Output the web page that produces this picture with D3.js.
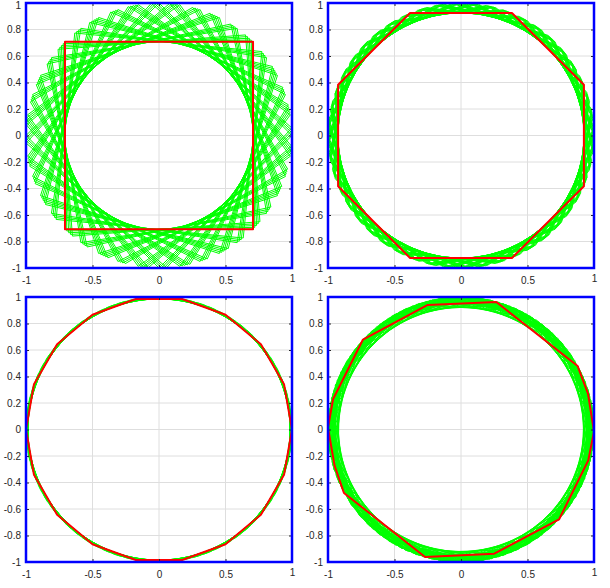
<!DOCTYPE html>
<html>
<head>
<meta charset="utf-8">
<script src="https://cdn.jsdelivr.net/npm/d3@7/dist/d3.min.js"></script>
<style>
  html, body { margin: 0; padding: 0; background: #fff; }
  svg { display: block; }
  .tick text { font-family: "Liberation Sans", Arial, sans-serif; font-size: 10px; fill: #262626; }
</style>
</head>
<body>
<svg id="chart" width="610" height="588"></svg>
<script>
// ---------- data ----------
const xTicks = [-1, -0.5, 0, 0.5, 1];
const xTickLabels = ["-1", "-0.5", "0", "0.5", "1"];
const yTicks = [-1, -0.8, -0.6, -0.4, -0.2, 0, 0.2, 0.4, 0.6, 0.8, 1];
const yTickLabels = ["-1", "-0.8", "-0.6", "-0.4", "-0.2", "0", "0.2", "0.4", "0.6", "0.8", "1"];

// red polygons (vertices, x/y)
const redSquare = [[0.707, 0.707], [-0.707, 0.707], [-0.707, -0.707], [0.707, -0.707]];
const redOctagon = [[0.924, 0.383], [0.383, 0.924], [-0.383, 0.924], [-0.924, 0.383],
                    [-0.924, -0.383], [-0.383, -0.924], [0.383, -0.924], [0.924, -0.383]];
const red18gon = [[1, 0], [0.940, 0.342], [0.766, 0.643], [0.5, 0.866], [0.174, 0.985],
                  [-0.174, 0.985], [-0.5, 0.866], [-0.766, 0.643], [-0.940, 0.342], [-1, 0],
                  [-0.940, -0.342], [-0.766, -0.643], [-0.5, -0.866], [-0.174, -0.985],
                  [0.174, -0.985], [0.5, -0.866], [0.766, -0.643], [0.940, -0.342]];
const redIrregular = [[1.0, -0.015], [0.955, 0.27], [0.877, 0.479], [0.265, 0.962], [-0.25, 0.94],
                      [-0.737, 0.679], [-0.962, 0.228], [-1.0, 0.012], [-0.95, -0.275], [-0.88, -0.479],
                      [-0.27, -0.962], [0.25, -0.937], [0.737, -0.679], [0.957, -0.233]];

// green copies: rotation angles (degrees) applied to each red polygon
const greenSquareRot = [0, 1.1, 2.2, 3.3, 4.4, 9, 10.1, 11.2, 12.3, 18, 19.1, 20.2, 21.3, 22.4,
                        27, 28.1, 29.2, 30.3, 36, 37.1, 38.2, 39.3, 40.4, 45, 46.1, 47.2, 48.3,
                        54, 55.1, 56.2, 57.3, 58.4, 63, 64.1, 65.2, 66.3, 72, 73.1, 74.2, 75.3, 76.4,
                        81, 82.1, 83.2, 84.3];
const greenOctagonRot = [0, 0.8, 1.6, 2.4, 3.2, 4, 7.5, 8.3, 9.1, 9.9, 10.7, 11.5,
                         15, 15.8, 16.6, 17.4, 18.2, 19, 22.5, 23.3, 24.1, 24.9, 25.7, 26.5,
                         30, 30.8, 31.6, 32.4, 33.2, 34, 37.5, 38.3, 39.1, 39.9, 40.7, 41.5];
const green18gonRot = [0, 1, 2, 3, 5, 6, 7, 8, 10, 11, 12, 13, 15, 16, 17, 18];
const greenIrregularRot = [0, 6, 12, 17, 23, 29, 35, 42, 48, 53, 60, 66, 71, 78, 84, 91, 97, 103,
                           109, 116, 121, 127, 134, 140, 146, 152, 158, 164, 170, 177, 183, 189,
                           195, 201, 207, 214, 220, 226, 232, 238, 244, 251, 257, 263, 269, 275,
                           281, 288, 294, 300, 306, 312, 318, 325, 331, 337, 343, 349, 355];

const panels = [
  { red: redSquare,    rot: greenSquareRot,    x0: 26,  x1: 292, y0: 3,   y1: 268 },
  { red: redOctagon,   rot: greenOctagonRot,   x0: 328, x1: 594, y0: 3,   y1: 268 },
  { red: red18gon,     rot: green18gonRot,     x0: 26,  x1: 292, y0: 297, y1: 562 },
  { red: redIrregular, rot: greenIrregularRot, x0: 328, x1: 594, y0: 297, y1: 562 }
];

// ---------- drawing ----------
const svg = d3.select("#chart");

function rotate(poly, deg) {
  const a = deg * Math.PI / 180, c = Math.cos(a), s = Math.sin(a);
  return poly.map(([x, y]) => [x * c - y * s, x * s + y * c]);
}

panels.forEach(p => {
  const x = d3.scaleLinear().domain([-1, 1]).range([p.x0, p.x1]);
  const y = d3.scaleLinear().domain([-1, 1]).range([p.y1, p.y0]);
  const g = svg.append("g");
  const line = d3.line().x(d => x(d[0])).y(d => y(d[1])).curve(d3.curveLinearClosed);

  // grid
  g.append("g").selectAll("line").data(xTicks).join("line")
    .attr("x1", d => x(d)).attr("x2", d => x(d)).attr("y1", p.y0).attr("y2", p.y1)
    .attr("stroke", "#dedede").attr("stroke-width", 1);
  g.append("g").selectAll("line").data(yTicks).join("line")
    .attr("y1", d => y(d)).attr("y2", d => y(d)).attr("x1", p.x0).attr("x2", p.x1)
    .attr("stroke", "#dedede").attr("stroke-width", 1);

  // green rotated copies
  g.append("g").selectAll("path").data(p.rot).join("path")
    .attr("d", r => line(rotate(p.red, r)))
    .attr("fill", "none").attr("stroke", "#00ff00").attr("stroke-width", 1);

  // red polygon
  g.append("path").attr("d", line(p.red))
    .attr("fill", "none").attr("stroke", "#ff0000").attr("stroke-width", 2)
    .attr("stroke-linejoin", "round");

  // axes
  const ax = [
    d3.axisBottom(x).tickValues(xTicks).tickFormat((d, i) => xTickLabels[i]).tickSize(-3).tickPadding(9),
    d3.axisLeft(y).tickValues(yTicks).tickFormat((d, i) => yTickLabels[i]).tickSize(-3).tickPadding(5),
    d3.axisTop(x).tickValues(xTicks).tickFormat("").tickSize(-3),
    d3.axisRight(y).tickValues(yTicks).tickFormat("").tickSize(-3)
  ];
  const tr = [[0, p.y1], [p.x0, 0], [0, p.y0], [p.x1, 0]];
  ax.forEach((a, i) => {
    const ag = g.append("g").attr("transform", `translate(${tr[i][0]},${tr[i][1]})`).call(a);
    ag.select(".domain").remove();
    ag.selectAll(".tick line").attr("stroke", "#262626");
  });
  // keep the top "1" label fully inside the page
  g.selectAll(".tick text").filter(function () {
    return this.textContent === "1" && +d3.select(this.parentNode).attr("transform").match(/,([\d.]+)/)[1] < 6;
  }).attr("dy", "0.5em");

  // blue box
  g.append("rect").attr("x", p.x0).attr("y", p.y0)
    .attr("width", p.x1 - p.x0).attr("height", p.y1 - p.y0)
    .attr("fill", "none").attr("stroke", "#0000ff").attr("stroke-width", 2.5);
});
</script>
</body>
</html>
